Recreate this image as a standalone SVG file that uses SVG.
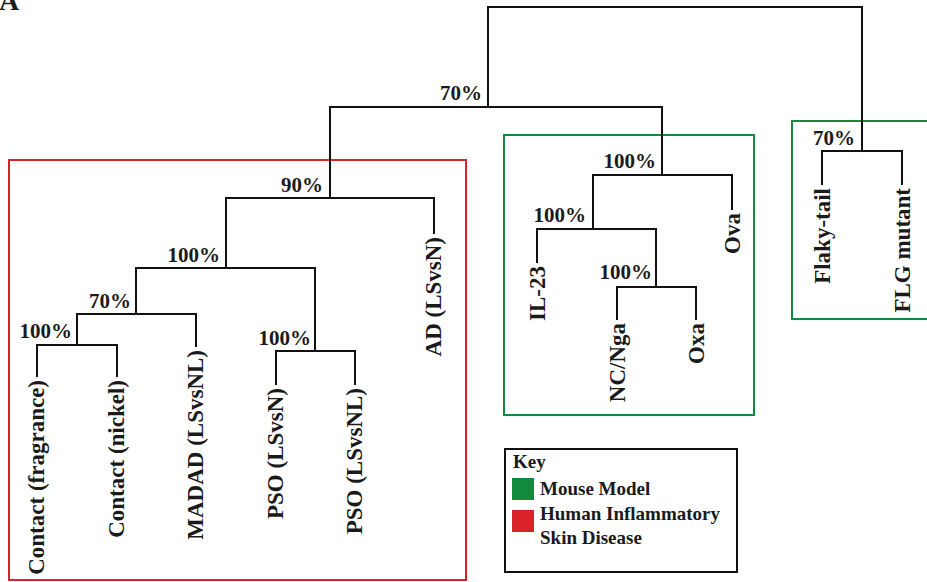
<svg xmlns="http://www.w3.org/2000/svg" width="927" height="582" viewBox="0 0 927 582">
<style>
text{font-family:"Liberation Serif","Times New Roman",serif;font-weight:bold;fill:#1a1a1a}
.pct{font-size:21px;text-anchor:end}
.leaf{font-size:23px;text-anchor:end}
.key{font-size:19px}
.br{fill:none;stroke:#111;stroke-width:2}
.red{fill:none;stroke:#d9222a;stroke-width:2}
.green{fill:none;stroke:#148a3c;stroke-width:2}
</style>
<rect width="927" height="582" fill="#fff"/>
<text x="-1" y="10" style="font-size:28px">A</text>
<g id="groups">
<rect id="human-box" class="red" x="9" y="160" width="457" height="420"/>
<rect id="mouse-box" class="green" x="504" y="135" width="250" height="280"/>
<rect id="flg-box" class="green" x="792" y="121" width="145" height="198"/>
</g>
<g id="connectors">
<path class="br" d="M488,107V7H862V151"/>
<path class="br" d="M330,198V107H662V175"/>
<path class="br" d="M226,268V198H434V234"/>
<path class="br" d="M136,314V268H315V351"/>
<path class="br" d="M77,345V314H196V347"/>
<path class="br" d="M37,377V345H117V377"/>
<path class="br" d="M276,385V351H355V385"/>
<path class="br" d="M593,229V175H732V210"/>
<path class="br" d="M537,263V229H656V287"/>
<path class="br" d="M617,320V287H696V320"/>
<path class="br" d="M822,185V151H902V185"/>
</g>
<g id="support">
<text class="pct" x="482" y="100">70%</text>
<text class="pct" x="323" y="192">90%</text>
<text class="pct" x="220" y="262">100%</text>
<text class="pct" x="131" y="308">70%</text>
<text class="pct" x="72" y="338">100%</text>
<text class="pct" x="311" y="345">100%</text>
<text class="pct" x="656" y="168">100%</text>
<text class="pct" x="586" y="222">100%</text>
<text class="pct" x="652" y="279">100%</text>
<text class="pct" x="855" y="145">70%</text>
</g>
<g id="leaf-contact-fragrance"><text class="leaf" transform="translate(44,380) rotate(-90)">Contact (fragrance)</text></g>
<g id="leaf-contact-nickel"><text class="leaf" transform="translate(124,380) rotate(-90)">Contact (nickel)</text></g>
<g id="leaf-madad"><text class="leaf" transform="translate(203,350) rotate(-90)">MADAD (LSvsNL)</text></g>
<g id="leaf-pso-n"><text class="leaf" transform="translate(283,388) rotate(-90)">PSO (LSvsN)</text></g>
<g id="leaf-pso-nl"><text class="leaf" transform="translate(362,388) rotate(-90)">PSO (LSvsNL)</text></g>
<g id="leaf-ad"><text class="leaf" transform="translate(441,237) rotate(-90)">AD (LSvsN)</text></g>
<g id="leaf-il23"><text class="leaf" transform="translate(545,266) rotate(-90)">IL-23</text></g>
<g id="leaf-ncnga"><text class="leaf" transform="translate(625,323) rotate(-90)">NC/Nga</text></g>
<g id="leaf-oxa"><text class="leaf" transform="translate(704,323) rotate(-90)">Oxa</text></g>
<g id="leaf-ova"><text class="leaf" transform="translate(740,213) rotate(-90)">Ova</text></g>
<g id="leaf-flaky"><text class="leaf" transform="translate(830,188) rotate(-90)">Flaky-tail</text></g>
<g id="leaf-flg"><text class="leaf" transform="translate(910,188) rotate(-90)">FLG mutant</text></g>
<g id="key">
<rect x="505" y="449" width="232" height="123" fill="#fff" stroke="#111" stroke-width="2"/>
<text class="key" x="513" y="468">Key</text>
<rect x="512" y="478" width="22" height="22" fill="#148a3c"/>
<text class="key" x="540" y="495">Mouse Model</text>
<rect x="512" y="510" width="22" height="22" fill="#d9222a"/>
<text class="key" x="540" y="520">Human Inflammatory</text>
<text class="key" x="540" y="544">Skin Disease</text>
</g>
</svg>
